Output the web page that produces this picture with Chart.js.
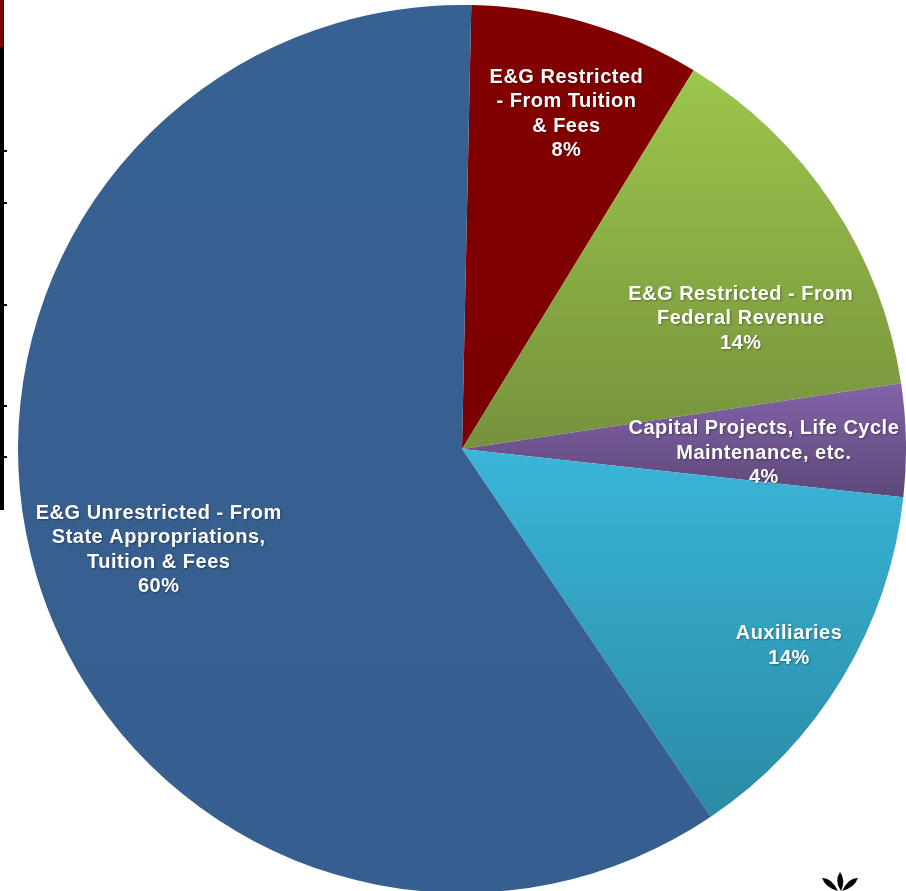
<!DOCTYPE html>
<html>
<head>
<meta charset="utf-8">
<script src="https://cdn.jsdelivr.net/npm/chart.js@4"></script>
<style>
  html, body { margin: 0; padding: 0; background: #fff; overflow: hidden; }
  body { width: 906px; height: 891px; position: relative; }
  #wrap { position: absolute; left: 18px; top: 5px; width: 888px; height: 888px; }
  .edge { position: absolute; left: 0; top: 0; width: 4px; height: 510px; background: #000; }
  .edge-top { position: absolute; left: 0; top: 0; width: 3px; height: 47px; background: #7a0000; }
  .tick { position: absolute; left: 0; width: 7px; height: 2px; background: #000; }
  #logo { position: absolute; left: 818px; top: 872px; }
</style>
</head>
<body>
<div class="edge"></div>
<div class="edge-top"></div>
<div class="tick" style="top:150px"></div>
<div class="tick" style="top:202px"></div>
<div class="tick" style="top:304px"></div>
<div class="tick" style="top:405px"></div>
<div class="tick" style="top:456px"></div>
<div id="wrap"><canvas id="pie"></canvas></div>
<svg id="logo" width="44" height="20" viewBox="0 0 44 20">
  <path d="M4 6 Q14 6 20 19 Q8 16 4 6Z" fill="#000"/>
  <path d="M22 0 Q28 8 23 19 Q16 9 22 0Z" fill="#000"/>
  <path d="M40 6 Q30 6 24 19 Q36 16 40 6Z" fill="#000"/>
</svg>
<script>
// Share of funds by source (percent)
const categories = [
  ['E&G Restricted', '- From Tuition', '& Fees'],
  ['E&G Restricted - From', 'Federal Revenue'],
  ['Capital Projects, Life Cycle', 'Maintenance, etc.'],
  ['Auxiliaries'],
  ['E&G Unrestricted - From', 'State Appropriations,', 'Tuition & Fees']
];
const values = [8.4, 13.9, 4.1, 13.8, 59.8];

// top / bottom colour of each slice's gradient
const topColors = ['#820000', '#9cc64c', '#8263a9', '#3ab6d9', '#386193'];
const bottomColors = ['#7c0000', '#76923c', '#5e4879', '#2a8aa4', '#365e8e'];

// label placement: fraction of radius, angle nudge in degrees
const labelRadius = [0.79, 0.693, 0.68, 0.86, 0.72];
const labelShift = [1, 8.5, 1.95, 0, -2];

const ROTATION = 1.2;

function sliceAngles(chart, i) {
  const vals = chart.data.datasets[0].data;
  const total = vals.reduce((a, b) => a + b, 0);
  let a = -Math.PI / 2 + ROTATION * Math.PI / 180;
  for (let k = 0; k < i; k++) a += vals[k] / total * Math.PI * 2;
  return [a, a + vals[i] / total * Math.PI * 2];
}

function sliceGradient(context) {
  const chart = context.chart;
  const area = chart.chartArea;
  const i = context.dataIndex;
  if (!area || i === undefined) return topColors[i] || topColors[0];
  const cx = (area.left + area.right) / 2;
  const cy = (area.top + area.bottom) / 2;
  const r = Math.min(area.right - area.left, area.bottom - area.top) / 2;
  const [a0, a1] = sliceAngles(chart, i);
  let ys = [cy, cy + r * Math.sin(a0), cy + r * Math.sin(a1)];
  for (let t = -Math.PI / 2 - 4 * Math.PI; t < a1; t += Math.PI) {
    if (t > a0) ys.push(cy + r * Math.sin(t));
  }
  const minY = Math.min(...ys), maxY = Math.max(...ys);
  const g = chart.ctx.createLinearGradient(0, minY, 0, maxY + 0.01);
  g.addColorStop(0, topColors[i]);
  g.addColorStop(1, bottomColors[i]);
  return g;
}

const sliceLabels = {
  id: 'sliceLabels',
  afterDatasetsDraw(chart) {
    const ctx = chart.ctx;
    const meta = chart.getDatasetMeta(0);
    const vals = chart.data.datasets[0].data;
    const total = vals.reduce((a, b) => a + b, 0);
    ctx.save();
    ctx.font = 'bold 20px "Liberation Sans", Arial, sans-serif';
    ctx.letterSpacing = '0.5px';
    ctx.fillStyle = '#fff';
    ctx.textAlign = 'center';
    ctx.textBaseline = 'middle';
    ctx.shadowColor = 'rgba(0,0,0,0.35)';
    ctx.shadowBlur = 2;
    ctx.shadowOffsetX = 1;
    ctx.shadowOffsetY = 1;
    meta.data.forEach((arc, i) => {
      const mid = (arc.startAngle + arc.endAngle) / 2 + labelShift[i] * Math.PI / 180;
      const rr = arc.outerRadius * labelRadius[i];
      const x = arc.x + rr * Math.cos(mid);
      const y = arc.y + rr * Math.sin(mid);
      const lines = categories[i].concat([Math.round(vals[i] / total * 100) + '%']);
      const lh = 24.5;
      const y0 = y - (lines.length - 1) * lh / 2;
      lines.forEach((l, k) => ctx.fillText(l, x, y0 + k * lh));
    });
    ctx.restore();
  }
};

new Chart(document.getElementById('pie'), {
  type: 'pie',
  data: {
    labels: categories.map(c => c.join(' ')),
    datasets: [{
      data: values,
      backgroundColor: sliceGradient,
      borderWidth: 0,
      hoverOffset: 0
    }]
  },
  options: {
    responsive: true,
    maintainAspectRatio: false,
    animation: false,
    rotation: ROTATION,
    layout: { padding: 0 },
    plugins: {
      legend: { display: false },
      tooltip: { enabled: false }
    }
  },
  plugins: [sliceLabels]
});
</script>
</body>
</html>
